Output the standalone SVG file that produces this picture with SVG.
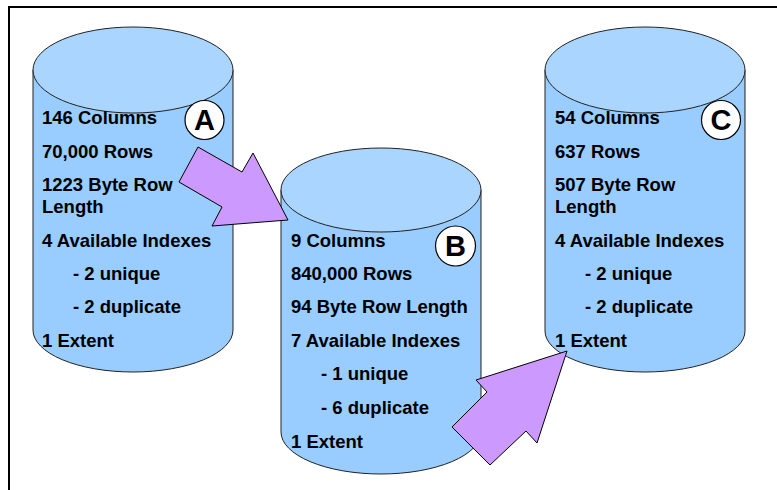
<svg xmlns="http://www.w3.org/2000/svg" width="777" height="490" viewBox="0 0 777 490">
<style>
.body{fill:#99CCFF;stroke:#222;stroke-width:1}
.top{fill:#AAD5FF;stroke:#222;stroke-width:1}
.t{font-family:"Liberation Sans",Arial,sans-serif;font-weight:bold;font-size:18.5px;fill:#000}
.badge{fill:#fff;stroke:#000;stroke-width:1.2}
.bl{font-family:"Liberation Sans",Arial,sans-serif;font-weight:bold;font-size:29px;fill:#000;text-anchor:middle}
.arrow{fill:#CC99FF;stroke:#000;stroke-width:1}
</style>
<rect width="777" height="490" fill="#fff"/>
<path d="M9,490 V7 H777" fill="none" stroke="#000" stroke-width="2"/>
<g id="nodeA">
<path class="body" d="M33,70 V330 A100,42 0 0 0 233,330 V70 Z"/>
<ellipse class="top" cx="133" cy="70" rx="100" ry="43"/>
<circle class="badge" cx="204.5" cy="120" r="19.5"/>
<text class="bl" x="204.5" y="130">A</text>
<text class="t" x="42" y="124">146 Columns</text>
<text class="t" x="42" y="158">70,000 Rows</text>
<text class="t" x="42" y="191">1223 Byte Row</text>
<text class="t" x="42" y="213">Length</text>
<text class="t" x="42" y="247">4 Available Indexes</text>
<text class="t" x="73" y="280">- 2 unique</text>
<text class="t" x="73" y="313">- 2 duplicate</text>
<text class="t" x="42" y="347">1 Extent</text>
</g>
<g id="nodeB">
<path class="body" d="M281,190 V432 A100,42 0 0 0 481,432 V190 Z"/>
<ellipse class="top" cx="381" cy="190" rx="100" ry="42"/>
<circle class="badge" cx="455.5" cy="246" r="20"/>
<text class="bl" x="455.5" y="256">B</text>
<text class="t" x="291" y="247">9 Columns</text>
<text class="t" x="291" y="280">840,000 Rows</text>
<text class="t" x="291" y="313">94 Byte Row Length</text>
<text class="t" x="291" y="347">7 Available Indexes</text>
<text class="t" x="321" y="380">- 1 unique</text>
<text class="t" x="321" y="414">- 6 duplicate</text>
<text class="t" x="291" y="448">1 Extent</text>
</g>
<g id="nodeC">
<path class="body" d="M545,70 V331 A100,41 0 0 0 745,331 V70 Z"/>
<ellipse class="top" cx="645" cy="70" rx="100" ry="43"/>
<circle class="badge" cx="721" cy="120" r="19.5"/>
<text class="bl" x="721" y="130">C</text>
<text class="t" x="555" y="124">54 Columns</text>
<text class="t" x="555" y="158">637 Rows</text>
<text class="t" x="555" y="191">507 Byte Row</text>
<text class="t" x="555" y="213">Length</text>
<text class="t" x="555" y="247">4 Available Indexes</text>
<text class="t" x="585" y="280">- 2 unique</text>
<text class="t" x="585" y="313">- 2 duplicate</text>
<text class="t" x="555" y="347">1 Extent</text>
</g>
<g id="connectors">
<polygon class="arrow" points="198,147 242,172 253,153 288,220 212,226 222,207 179,182"/>
<polygon class="arrow" points="567,351 476,380 487,392 452,427 490,465 526,431 537,443"/>
</g>
</svg>
